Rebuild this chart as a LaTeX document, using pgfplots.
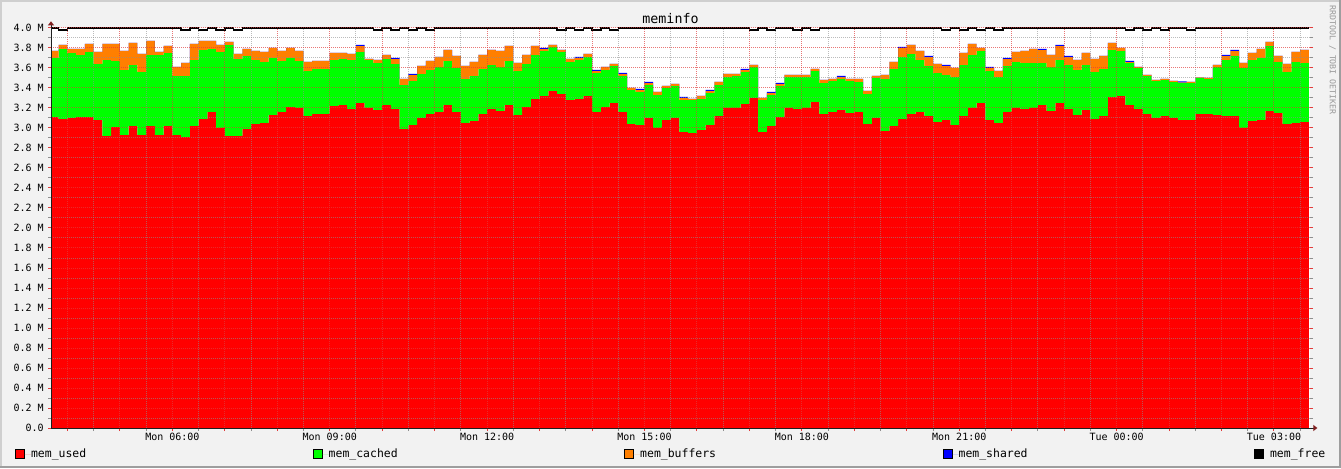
\documentclass[border=0pt]{standalone}
\usepackage{pgfplots}
\pgfplotsset{compat=1.18}
\usepackage{pgfplotstable}
\usepackage{fontspec}
\setmainfont{DejaVu Sans Mono}
\usetikzlibrary{arrows.meta}

\definecolor{bgc}{RGB}{242,242,242}
\definecolor{shadea}{RGB}{207,207,207}
\definecolor{shadeb}{RGB}{158,158,158}
\definecolor{mgridc}{RGB}{225,60,60}
\definecolor{gridc}{RGB}{143,143,143}
\definecolor{arrowc}{RGB}{128,31,31}
\definecolor{axisc}{RGB}{31,31,31}
\definecolor{memused}{RGB}{255,0,0}
\definecolor{memcached}{RGB}{0,255,0}
\definecolor{membuffers}{RGB}{255,127,0}
\definecolor{memshared}{RGB}{0,0,255}

% t = minutes since Mon 00:00 (10 min steps); values in M
\pgfplotstableread{
t used cached buffers shared total
220 3.11 0.59 0.07 0 4.00
230 3.09 0.70 0.04 0 3.98
240 3.10 0.65 0.04 0 4.00
250 3.11 0.62 0.06 0 4.00
260 3.11 0.65 0.08 0 4.00
270 3.08 0.56 0.12 0 4.00
280 2.92 0.76 0.16 0 4.00
290 3.01 0.66 0.17 0 4.00
300 2.93 0.65 0.19 0 4.00
310 3.02 0.61 0.22 0 4.00
320 2.93 0.63 0.18 0 4.00
330 3.02 0.71 0.14 0 4.00
340 2.93 0.80 0.03 0 4.00
350 3.02 0.73 0.07 0 4.00
360 2.93 0.59 0.09 0 4.00
370 2.91 0.61 0.13 0 3.98
380 3.02 0.66 0.16 0 4.00
390 3.09 0.69 0.09 0 3.98
400 3.16 0.63 0.08 0 4.00
410 3.00 0.76 0.07 0 3.98
420 2.92 0.91 0.03 0 4.00
430 2.92 0.77 0.05 0 3.98
440 2.99 0.73 0.07 0 4.00
450 3.04 0.64 0.09 0 4.00
460 3.05 0.61 0.10 0 4.00
470 3.13 0.57 0.10 0 4.00
480 3.16 0.51 0.10 0 4.00
490 3.21 0.49 0.10 0 4.00
500 3.20 0.47 0.10 0 4.00
510 3.12 0.45 0.09 0 4.00
520 3.14 0.45 0.08 0 4.00
530 3.14 0.45 0.08 0 4.00
540 3.22 0.46 0.07 0 4.00
550 3.23 0.46 0.06 0 4.00
560 3.19 0.49 0.06 0 4.00
570 3.25 0.51 0.06 0.01 4.00
580 3.20 0.48 0.01 0 4.00
590 3.18 0.47 0.03 0 3.98
600 3.23 0.46 0.04 0 4.00
610 3.19 0.45 0.05 0.01 3.98
620 2.99 0.44 0.06 0 4.00
630 3.03 0.44 0.06 0.01 3.98
640 3.10 0.44 0.08 0 4.00
650 3.14 0.44 0.09 0 3.98
660 3.16 0.45 0.10 0 4.00
670 3.23 0.44 0.11 0 4.00
680 3.16 0.44 0.12 0 4.00
690 3.05 0.44 0.13 0 4.00
700 3.07 0.45 0.14 0 4.00
710 3.14 0.45 0.14 0 4.00
720 3.19 0.44 0.15 0 4.00
730 3.17 0.44 0.16 0 4.00
740 3.23 0.44 0.15 0 4.00
750 3.13 0.44 0.08 0 4.00
760 3.21 0.43 0.09 0 4.00
770 3.29 0.44 0.09 0 4.00
780 3.32 0.45 0.02 0.01 4.00
790 3.37 0.44 0.02 0 4.00
800 3.34 0.42 0.02 0 3.98
810 3.28 0.38 0.03 0 4.00
820 3.29 0.39 0.02 0.01 3.98
830 3.32 0.39 0.03 0 4.00
840 3.16 0.39 0.02 0.01 3.98
850 3.21 0.37 0.03 0 4.00
860 3.25 0.37 0.02 0 3.98
870 3.16 0.36 0.02 0.01 4.00
880 3.04 0.34 0.02 0 4.00
890 3.03 0.33 0.02 0.01 4.00
900 3.10 0.33 0.02 0.01 4.00
910 3.00 0.33 0.03 0 4.00
920 3.08 0.32 0.02 0 4.00
930 3.10 0.32 0.02 0 4.00
940 2.96 0.32 0.02 0.01 4.00
950 2.95 0.33 0.01 0 4.00
960 2.98 0.31 0.03 0 4.00
970 3.03 0.32 0.02 0.01 4.00
980 3.12 0.31 0.03 0 4.00
990 3.20 0.31 0.03 0 4.00
1000 3.20 0.32 0.02 0 4.00
1010 3.24 0.32 0.02 0.01 4.00
1020 3.30 0.31 0.02 0 3.98
1030 2.96 0.32 0.02 0 4.00
1040 3.02 0.31 0.02 0.01 3.98
1050 3.11 0.31 0.02 0.01 4.00
1060 3.20 0.31 0.02 0 4.00
1070 3.19 0.32 0.02 0 3.98
1080 3.20 0.31 0.02 0 4.00
1090 3.26 0.31 0.02 0 3.98
1100 3.14 0.31 0.03 0 4.00
1110 3.16 0.31 0.02 0 4.00
1120 3.18 0.31 0.02 0.01 4.00
1130 3.15 0.32 0.02 0 4.00
1140 3.16 0.30 0.03 0 4.00
1150 3.04 0.30 0.03 0 4.00
1160 3.10 0.40 0.02 0 4.00
1170 2.97 0.52 0.04 0 4.00
1180 3.02 0.57 0.07 0 4.00
1190 3.09 0.62 0.09 0.01 4.00
1200 3.14 0.60 0.09 0 4.00
1210 3.16 0.52 0.09 0 4.00
1220 3.12 0.50 0.09 0.01 4.00
1230 3.06 0.49 0.09 0 4.00
1240 3.08 0.45 0.09 0.01 3.98
1250 3.03 0.48 0.09 0 4.00
1260 3.12 0.51 0.12 0 3.98
1270 3.20 0.53 0.11 0 4.00
1280 3.25 0.52 0.03 0 3.98
1290 3.08 0.49 0.03 0.01 4.00
1300 3.05 0.46 0.06 0 3.98
1310 3.16 0.46 0.07 0.01 4.00
1320 3.20 0.46 0.10 0 4.00
1330 3.19 0.46 0.12 0 4.00
1340 3.20 0.45 0.14 0 4.00
1350 3.23 0.42 0.13 0.01 4.00
1360 3.17 0.44 0.12 0 4.00
1370 3.25 0.43 0.14 0.01 4.00
1380 3.19 0.44 0.08 0.01 4.00
1390 3.13 0.45 0.10 0 4.00
1400 3.18 0.45 0.12 0 4.00
1410 3.09 0.47 0.13 0 4.00
1420 3.12 0.47 0.13 0 4.00
1430 3.31 0.47 0.07 0 4.00
1440 3.32 0.45 0.03 0 4.00
1450 3.23 0.42 0.01 0.01 3.98
1460 3.19 0.41 0.01 0 4.00
1470 3.14 0.38 0.01 0 3.98
1480 3.10 0.37 0.01 0 4.00
1490 3.12 0.36 0.01 0 3.98
1500 3.10 0.36 0.01 0 4.00
1510 3.08 0.37 0.005 0.01 4.00
1520 3.08 0.37 0.01 0 3.98
1530 3.14 0.36 0.005 0 4.00
1540 3.14 0.35 0.01 0 4.00
1550 3.13 0.48 0.02 0 4.00
1560 3.12 0.56 0.04 0.01 4.00
1570 3.12 0.60 0.05 0.01 4.00
1580 3.00 0.60 0.05 0 4.00
1590 3.07 0.61 0.07 0 4.00
1600 3.08 0.62 0.09 0 4.00
1610 3.17 0.65 0.04 0 4.00
1620 3.15 0.51 0.06 0 4.00
1630 3.04 0.52 0.08 0 4.00
1640 3.05 0.61 0.10 0 4.00
1650 3.06 0.59 0.13 0 4.00
1660 3.06 0.59 0.13 0 4.00
}\meminfo

\begin{document}
\begin{tikzpicture}[x=0.75pt,y=0.75pt]
\fill[bgc] (0,0) rectangle (1341,468);
\fill[shadea] (0,466) rectangle (1341,468);
\fill[shadea] (0,0) rectangle (2,468);
\fill[shadeb] (0,0) rectangle (1341,2);
\fill[shadeb] (1339,0) rectangle (1341,468);
\useasboundingbox (0,0) rectangle (1341,468);

\begin{axis}[
  name=ax,
  at={(38.25pt,30pt)}, anchor=south west,
  scale only axis, width=944.25pt, height=300pt,
  xmin=221.2, xmax=1661.2, ymin=0, ymax=4,
  axis background/.style={fill=white},
  axis on top,
  axis line style={draw=none},
  xtick={240,300,...,1620},
  xticklabels={,,Mon 06:00,,,Mon 09:00,,,Mon 12:00,,,Mon 15:00,,,Mon 18:00,,,Mon 21:00,,,Tue 00:00,,,Tue 03:00},
  minor xtick={210,270,...,1650},
  ytick={0,0.2,0.4,0.6,0.8,1.0,1.2,1.4,1.6,1.8,2.0,2.2,2.4,2.6,2.8,3.0,3.2,3.4,3.6,3.8,4.0},
  yticklabels={0.0,0.2 M,0.4 M,0.6 M,0.8 M,1.0 M,1.2 M,1.4 M,1.6 M,1.8 M,2.0 M,2.2 M,2.4 M,2.6 M,2.8 M,3.0 M,3.2 M,3.4 M,3.6 M,3.8 M,4.0 M},
  minor ytick={0.1,0.3,0.5,0.7,0.9,1.1,1.3,1.5,1.7,1.9,2.1,2.3,2.5,2.7,2.9,3.1,3.3,3.5,3.7,3.9},
  grid=both,
  major grid style={draw=mgridc, draw opacity=0.7, line width=0.75pt, dash pattern=on 0.75pt off 0.75pt},
  minor grid style={draw=gridc, draw opacity=0.6, line width=0.75pt, dash pattern=on 0.75pt off 0.75pt},
  tick align=outside,
  major tick length=2.25pt, minor tick length=2.25pt,
  major tick style={draw=mgridc, line width=0.75pt},
  minor tick style={draw=gridc, line width=0.75pt},
  xtick pos=left, ytick pos=both, yticklabel pos=left,
  tick label style={font=\fontsize{7.5}{9}\selectfont, text=black, inner sep=0pt},
  xticklabel style={anchor=north, yshift=-1.5pt},
  yticklabel style={anchor=east, xshift=-3pt},
  legend columns=5,
  legend style={at={(-0.02859,-0.065)}, anchor=west, draw=none, fill=none,
    inner sep=0pt, outer sep=0pt,
    font=\fontsize{8.6}{10}\selectfont,
    nodes={inner sep=0pt},
    cells={anchor=west},
    /tikz/every even column/.append style={column sep=169.8pt}},
]
\addplot[const plot mark left, stack plots=y, fill=memused, draw=none,
  legend image code/.code={\filldraw[fill=memused,draw=black,line width=0.75pt] (0.375pt,-3.375pt) rectangle (7.125pt,3.375pt); \path[draw=none] (0,0) -- (11.25pt,0);}]
  table[x=t,y=used]{\meminfo} \closedcycle;
\addlegendentry{mem\_used}
\addplot[const plot mark left, stack plots=y, fill=memcached, draw=none,
  legend image code/.code={\filldraw[fill=memcached,draw=black,line width=0.75pt] (0.375pt,-3.375pt) rectangle (7.125pt,3.375pt); \path[draw=none] (0,0) -- (11.25pt,0);}]
  table[x=t,y=cached]{\meminfo} \closedcycle;
\addlegendentry{mem\_cached}
\addplot[const plot mark left, stack plots=y, fill=membuffers, draw=none,
  legend image code/.code={\filldraw[fill=membuffers,draw=black,line width=0.75pt] (0.375pt,-3.375pt) rectangle (7.125pt,3.375pt); \path[draw=none] (0,0) -- (11.25pt,0);}]
  table[x=t,y=buffers]{\meminfo} \closedcycle;
\addlegendentry{mem\_buffers}
\addplot[const plot mark left, stack plots=y, fill=memshared, draw=none,
  legend image code/.code={\filldraw[fill=memshared,draw=black,line width=0.75pt] (0.375pt,-3.375pt) rectangle (7.125pt,3.375pt); \path[draw=none] (0,0) -- (11.25pt,0);}]
  table[x=t,y=shared]{\meminfo} \closedcycle;
\addlegendentry{mem\_shared}
\addplot[const plot mark left, stack plots=false, draw=black, line width=1.1pt,
  legend image code/.code={\filldraw[fill=black,draw=black,line width=0.75pt] (0.375pt,-3.375pt) rectangle (7.125pt,3.375pt); \path[draw=none] (0,0) -- (11.25pt,0);}]
  table[x=t,y=total]{\meminfo};
\addlegendentry{mem\_free}
\end{axis}

\draw[axisc, line width=0.75pt, -{Triangle[length=3pt,width=4.5pt,color=arrowc]}]
  (ax.south west) -- ([yshift=5pt]ax.north west);
\draw[axisc, line width=0.75pt, -{Triangle[length=3pt,width=4.5pt,color=arrowc]}]
  (ax.south west) -- ([xshift=5.5pt]ax.south east);

\node[anchor=base, font=\fontsize{10}{12}\selectfont] at (670.5,444) {meminfo};
\node[rotate=-90, text=black!40, font=\fontsize{6.2}{7}\selectfont] at (1332.5,408) {RRDTOOL / TOBI OETIKER};
\end{tikzpicture}
\end{document}
